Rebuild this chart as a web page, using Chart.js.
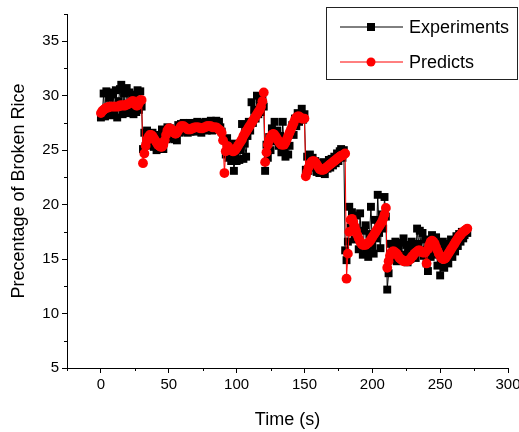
<!DOCTYPE html>
<html lang="en">
  <head>
    <meta charset="UTF-8" />
    <script src="https://cdn.jsdelivr.net/npm/chart.js@4.4.1/dist/chart.umd.min.js"></script>
    <title>Broken rice</title>
    <style>
      body { margin: 0; background: #fff; }
      #wrap { width: 519px; height: 432px; }
    </style>
  </head>
  <body>
    <div id="wrap"><canvas id="myChart" width="519" height="432"></canvas></div>
    <script>
      // time step of the record, seconds
      const startTime = 0;
      const timeStep = 1;

      // Experiments, one value per second (0..270 s)
      const experiments = [
        28.0, 28.3, 30.2, 28.1, 30.4, 28.4, 29.8, 30.3, 28.2, 30.1,
        28.6, 30.5, 28.0, 29.5, 30.6, 31.0, 28.3, 30.2, 28.5, 30.7,
        28.4, 30.3, 28.6, 30.1, 28.3, 29.9, 28.5, 30.5, 28.7, 30.4,
        29.0,
        25.1, 26.6, 25.4, 26.8, 25.6, 26.2, 25.5, 26.6, 25.3, 26.1,
        25.0, 26.4, 25.2, 25.6, 26.9, 25.1, 26.5, 26.0, 27.1, 26.3,
        27.0, 26.1, 26.8, 26.0, 26.7, 25.9, 27.3, 26.6, 27.4, 26.7,
        27.5, 26.8, 27.3, 26.6, 27.5, 26.7, 27.4, 26.8, 27.5, 26.7,
        27.6, 26.8, 27.3, 26.6, 27.5, 26.9, 27.6, 26.8, 27.5, 26.9,
        27.7, 26.8, 27.5, 27.0, 27.7, 26.9, 27.6, 27.1, 26.7, 26.0,
        25.9, 24.6, 26.1, 24.3, 25.2, 24.0, 25.6, 23.1, 24.4, 24.0,
        25.3, 24.1, 25.0, 27.4, 24.2, 25.6, 24.4, 26.3, 27.6, 26.8,
        29.4, 27.5, 28.7, 27.9, 30.0, 28.3, 29.7, 28.5, 29.9, 29.0,
        23.1, 25.5, 24.3, 26.2, 25.0, 27.0, 25.8, 27.6, 26.0, 26.8,
        25.4, 26.3, 24.8, 27.6, 25.0, 24.4, 25.9, 24.6, 25.4, 26.5,
        27.3, 26.4, 27.9, 27.2, 28.4, 27.6, 28.2, 28.8, 27.8, 28.3,
        23.2, 24.4, 23.1, 24.6, 23.5, 24.3, 23.4, 24.0, 23.0, 23.8,
        22.9, 23.6, 23.1, 23.9, 22.8, 23.7, 23.3, 24.1, 23.4, 24.2,
        23.6, 24.4, 23.8, 24.7, 24.0, 24.9, 25.1, 24.3, 25.0, 15.8,
        14.9, 16.6, 19.8, 17.9, 19.3, 18.4, 16.8, 19.0, 17.5, 15.9,
        19.2, 16.4, 15.4, 17.6, 18.1, 15.6, 15.2, 17.3, 19.8, 16.2,
        15.5, 18.6, 16.9, 20.9, 17.4, 16.0, 19.1, 17.8, 20.7, 18.9,
        12.2, 13.7, 16.4, 15.1, 16.2, 15.3, 16.6, 14.8, 16.0, 15.2,
        16.5, 14.9, 16.9, 15.4, 16.3, 14.7, 16.1, 15.0, 16.6, 15.5,
        16.2, 15.1, 17.8, 16.4, 17.6, 15.8, 17.4, 15.3, 16.8, 14.6,
        13.9, 16.4, 15.2, 17.2, 16.0, 15.4, 17.0, 14.4, 16.3, 13.5,
        15.1, 16.6, 14.2, 15.8, 16.4, 14.6, 15.9, 16.8, 15.2, 16.5,
        15.7, 17.1, 16.2, 17.3, 16.6, 17.5, 16.9, 17.2, 17.6, 17.4
      ];

      // Predicts, same times
      const predicts = [
        28.4, 28.6, 28.7, 28.8, 28.9, 28.9, 29.0, 29.0, 29.0, 29.0,
        29.0, 29.0, 29.0, 29.0, 29.1, 29.1, 29.1, 29.1, 29.1, 29.2,
        29.2, 29.3, 29.4, 29.5, 29.5, 29.3, 29.1, 29.1, 29.3, 29.6,
        29.6,
        23.8, 24.7, 25.4, 25.9, 26.2, 26.4, 26.4, 26.3, 26.1, 25.9,
        25.7, 25.5, 25.4, 25.3, 25.3, 25.5, 25.9, 26.4, 26.8, 27.0,
        27.0, 26.9, 26.7, 26.6, 26.5, 26.6, 26.8, 27.0, 27.2, 27.2,
        27.2, 27.1, 27.0, 26.9, 26.9, 26.9, 27.0, 27.0, 27.1, 27.1,
        27.1, 27.1, 27.0, 27.0, 27.0, 27.1, 27.1, 27.2, 27.2, 27.2,
        27.2, 27.1, 27.1, 27.1, 27.1, 27.0, 26.9, 26.8, 26.6, 25.9,
        22.9, 24.9, 25.4, 25.3, 25.1, 25.0, 24.9, 24.9, 25.0, 25.2,
        25.4, 25.6, 25.8, 26.0, 26.3, 26.5, 26.7, 26.9, 27.1, 27.3,
        27.5, 27.7, 27.9, 28.1, 28.3, 28.5, 28.7, 29.0, 29.5, 30.3,
        23.9, 24.8, 25.5, 25.9, 26.2, 26.4, 26.5, 26.4, 26.2, 26.0,
        25.8, 25.6, 25.5, 25.5, 25.5, 25.7, 26.0, 26.3, 26.6, 26.9,
        27.2, 27.5, 27.8, 28.0, 28.1, 28.1, 28.0, 27.9, 27.9, 27.9,
        22.6, 23.0, 23.4, 23.7, 23.9, 24.0, 24.0, 23.9, 23.7, 23.5,
        23.3, 23.2, 23.2, 23.2, 23.3, 23.4, 23.5, 23.6, 23.7, 23.8,
        23.9, 24.0, 24.1, 24.2, 24.3, 24.4, 24.5, 24.5, 24.6, 24.7,
        13.2, 15.5, 17.5, 18.6, 18.7, 18.4, 18.0, 17.6, 17.2, 16.9,
        16.6, 16.4, 16.3, 16.3, 16.3, 16.4, 16.5, 16.6, 16.8, 17.0,
        17.2, 17.4, 17.6, 17.8, 18.0, 18.2, 18.4, 18.7, 19.1, 19.7,
        14.2, 14.8, 15.3, 15.6, 15.7, 15.7, 15.6, 15.5, 15.3, 15.1,
        15.0, 14.9, 14.8, 14.8, 14.8, 14.8, 14.9, 15.0, 15.2, 15.3,
        15.5, 15.6, 15.7, 15.8, 15.8, 15.7, 15.6, 15.6, 15.6, 14.6,
        15.9, 16.3, 16.6, 16.7, 16.6, 16.4, 16.1, 15.8, 15.5, 15.3,
        15.1, 15.0, 15.0, 15.1, 15.3, 15.5, 15.7, 15.9, 16.1, 16.3,
        16.5, 16.7, 16.9, 17.1, 17.2, 17.4, 17.5, 17.6, 17.7, 17.8
      ];

      const xLabelTicks = [0, 50, 100, 150, 200, 250, 300];
      const yLabelTicks = [5, 10, 15, 20, 25, 30, 35];
      const xMinorTicks = [-25, 25, 75, 125, 175, 225, 275];
      const yMinorTicks = [7.5, 12.5, 17.5, 22.5, 27.5, 32.5, 37.5];

      const toPoints = (arr) =>
        arr.map((v, i) => ({ x: startTime + i * timeStep, y: v }));

      const FONT = "'Liberation Sans', Arial, sans-serif";

      // short minor ticks, placed with the scales
      const minorTicks = {
        id: "minorTicks",
        afterDraw(chart) {
          const { ctx, chartArea } = chart;
          const xs = chart.scales.x;
          const ys = chart.scales.y;
          ctx.save();
          ctx.strokeStyle = "#000";
          ctx.lineWidth = 1;
          xMinorTicks.forEach((v) => {
            const px = Math.round(xs.getPixelForValue(v)) + 0.5;
            ctx.beginPath();
            ctx.moveTo(px, chartArea.bottom);
            ctx.lineTo(px, chartArea.bottom + 3);
            ctx.stroke();
          });
          yMinorTicks.forEach((v) => {
            const py = Math.round(ys.getPixelForValue(v)) + 0.5;
            ctx.beginPath();
            ctx.moveTo(chartArea.left, py);
            ctx.lineTo(chartArea.left - 3, py);
            ctx.stroke();
          });
          ctx.restore();
        },
      };

      // boxed legend in the top right corner
      const boxLegend = {
        id: "boxLegend",
        afterDraw(chart) {
          const { ctx, chartArea } = chart;
          const left = chartArea.left + 259;
          const top = chartArea.top - 7;
          const w = 191;
          const h = 72;
          ctx.save();
          ctx.fillStyle = "#fff";
          ctx.fillRect(left, top, w, h);
          ctx.strokeStyle = "#222";
          ctx.lineWidth = 1;
          ctx.strokeRect(left + 0.5, top + 0.5, w, h);
          chart.data.datasets.forEach((ds, i) => {
            const y = top + 20 + i * 35;
            ctx.strokeStyle = ds.borderColor;
            ctx.lineWidth = 1;
            ctx.beginPath();
            ctx.moveTo(left + 14, y);
            ctx.lineTo(left + 77, y);
            ctx.stroke();
            ctx.fillStyle = ds.pointBackgroundColor;
            if (ds.pointStyle === "rect") {
              ctx.fillRect(left + 41, y - 4, 8, 8);
            } else {
              ctx.beginPath();
              ctx.arc(left + 45, y, 4.5, 0, Math.PI * 2);
              ctx.fill();
            }
            ctx.fillStyle = "#000";
            ctx.font = "18px " + FONT;
            ctx.textBaseline = "middle";
            ctx.fillText(ds.label, left + 83, y + 1);
          });
          ctx.restore();
        },
      };

      const ctx = document.getElementById("myChart").getContext("2d");
      const brokenRiceChart = new Chart(ctx, {
        type: "line",
        data: {
          datasets: [
            {
              label: "Experiments",
              data: toPoints(experiments),
              borderColor: "#000",
              borderWidth: 1,
              pointStyle: "rect",
              pointRadius: 5.6,
              pointBackgroundColor: "#000",
              pointBorderColor: "#000",
              pointBorderWidth: 0,
              order: 1,
            },
            {
              label: "Predicts",
              data: toPoints(predicts),
              borderColor: "#ff0000",
              borderWidth: 1,
              pointStyle: "circle",
              pointRadius: 4.9,
              pointBackgroundColor: "#ff0000",
              pointBorderColor: "#ff0000",
              pointBorderWidth: 0,
              order: 0,
            },
          ],
        },
        options: {
          responsive: false,
          animation: false,
          layout: { padding: { top: 14, right: 11, bottom: 0, left: 0 } },
          plugins: {
            legend: { display: false },
            tooltip: { enabled: false },
          },
          scales: {
            x: {
              type: "linear",
              min: -25,
              max: 300,
              afterFit: (s) => {
                s.height = 64;
                s.paddingLeft = 0;
                s.paddingRight = 0;
              },
              border: { display: true, color: "#000", width: 1 },
              grid: {
                drawOnChartArea: false,
                drawTicks: true,
                tickLength: 5,
                tickColor: (c) =>
                  xLabelTicks.includes(c.tick.value) ? "#000" : "rgba(0,0,0,0)",
              },
              ticks: {
                stepSize: 25,
                autoSkip: false,
                maxRotation: 0,
                padding: 3,
                color: "#000",
                font: { family: FONT, size: 15 },
                callback: (v) => (xLabelTicks.includes(v) ? String(v) : ""),
              },
              title: {
                display: true,
                text: "Time (s)",
                color: "#000",
                font: { family: FONT, size: 18 },
                padding: { top: 0, bottom: 1 },
              },
            },
            y: {
              min: 5,
              max: 37.5,
              afterFit: (s) => {
                s.width = 67;
                s.paddingTop = 0;
                s.paddingBottom = 0;
              },
              border: { display: true, color: "#000", width: 1 },
              grid: {
                drawOnChartArea: false,
                drawTicks: true,
                tickLength: 5,
                tickColor: (c) =>
                  yLabelTicks.includes(c.tick.value) ? "#000" : "rgba(0,0,0,0)",
              },
              ticks: {
                stepSize: 2.5,
                autoSkip: false,
                padding: 3,
                color: "#000",
                font: { family: FONT, size: 15 },
                callback: (v) => (yLabelTicks.includes(v) ? String(v) : ""),
              },
              title: {
                display: true,
                text: "Precentage of Broken Rice",
                color: "#000",
                font: { family: FONT, size: 18 },
                padding: { top: 8, bottom: 0 },
              },
            },
          },
        },
        plugins: [minorTicks, boxLegend],
      });
    </script>
  </body>
</html>
